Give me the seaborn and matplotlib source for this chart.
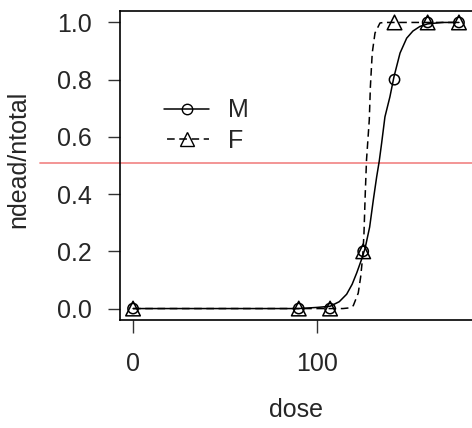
import numpy as np
import pandas as pd
import matplotlib
matplotlib.use('Agg')
import matplotlib.pyplot as plt
from matplotlib.lines import Line2D
import seaborn as sns

# observed proportions
dose = [0, 90, 107, 125, 142, 160, 177]
p_male = [0, 0, 0, 0.2, 0.8, 1, 1]
p_female = [0, 0, 0, 0.2, 1, 1, 1]

# fitted curves
curve_dose_m = [0, 90, 100, 107, 112, 116, 119, 121.5, 124, 126, 128.5, 130.5, 132.3,
                133.7, 135, 136.8, 139.5, 141.7, 145, 148.6, 152, 155.8, 160, 168, 177]
curve_m = [0, 0, 0.004, 0.008, 0.024, 0.05, 0.085, 0.125, 0.17, 0.21, 0.285, 0.38, 0.46,
           0.515, 0.578, 0.67, 0.74, 0.81, 0.893, 0.945, 0.97, 0.986, 0.995, 1.0, 1.0]
curve_dose_f = [0, 107, 114, 117, 119.6, 122.3, 123.6, 124.7, 125.4, 126.1, 126.8,
                128.3, 128.9, 129.9, 131.4, 134.1, 136, 177]
curve_f = [0, 0, 0, 0.002, 0.01, 0.054, 0.11, 0.18, 0.26, 0.40, 0.52,
           0.66, 0.776, 0.893, 0.963, 0.998, 1.0, 1.0]

ref_level = 0.51

pts = pd.DataFrame({'dose': dose * 2,
                    'p': p_male + p_female,
                    'sex': ['M'] * len(dose) + ['F'] * len(dose)})
curves = pd.DataFrame({'dose': curve_dose_m + curve_dose_f,
                       'p': curve_m + curve_f,
                       'sex': ['M'] * len(curve_m) + ['F'] * len(curve_f)})

sns.set_style('ticks')
plt.rcParams['font.family'] = ['Liberation Sans', 'DejaVu Sans']
fs = 18

fig = plt.figure(figsize=(4.72, 4.28), dpi=100)
ax = fig.add_axes([120 / 472, 108 / 428, 352 / 472, 309 / 428])

sns.lineplot(data=curves, x='dose', y='p', style='sex', style_order=['M', 'F'],
             dashes={'M': '', 'F': (5, 3)}, color='black', linewidth=1.1,
             estimator=None, sort=False, legend=False, ax=ax)
sns.scatterplot(data=pts, x='dose', y='p', style='sex', style_order=['M', 'F'],
                markers={'M': 'o', 'F': '^'}, size='sex', sizes={'M': 55, 'F': 110},
                facecolors='none', edgecolor='black', linewidth=1.1,
                legend=False, ax=ax, zorder=3)

ax.axhline(ref_level, xmin=-80 / 352, xmax=1, color='#f28c8c', linewidth=1.3,
           clip_on=False, zorder=1)

# R style axis ranges (4% padding)
rng = max(dose) - min(dose)
ax.set_xlim(min(dose) - 0.04 * rng, max(dose) + 0.04 * rng)
ax.set_ylim(-0.04, 1.04)
ax.set_xticks([0, 100])
ax.set_yticks([0, 0.2, 0.4, 0.6, 0.8, 1.0])
ax.set_yticklabels(['0.0', '0.2', '0.4', '0.6', '0.8', '1.0'])
ax.tick_params(axis='both', labelsize=fs, length=9, width=1, color='#333333')
ax.tick_params(axis='y', pad=11)
ax.tick_params(axis='x', pad=14)
for s in ax.spines.values():
    s.set_linewidth(1.2)
    s.set_color('black')
ax.spines['right'].set_visible(False)

ax.set_xlabel('dose', fontsize=fs, labelpad=16)
ax.set_ylabel('ndead/ntotal', fontsize=fs, labelpad=4)
ax.yaxis.set_label_coords(-0.255, 0.52)

handles = [Line2D([], [], color='black', linewidth=1.1, marker='o', markersize=7.5,
                  mfc='none', mec='black'),
           Line2D([], [], color='black', linewidth=1.1, linestyle=(6, (5, 3)), marker='^',
                  markersize=10, mfc='none', mec='black')]
ax.legend(handles=handles, labels=['M', 'F'], loc='upper left', bbox_to_anchor=(0.062, 0.79),
          frameon=False, fontsize=fs, handlelength=1.8, labelspacing=0.25, handletextpad=0.75)

fig.savefig('out.png', dpi=100)
